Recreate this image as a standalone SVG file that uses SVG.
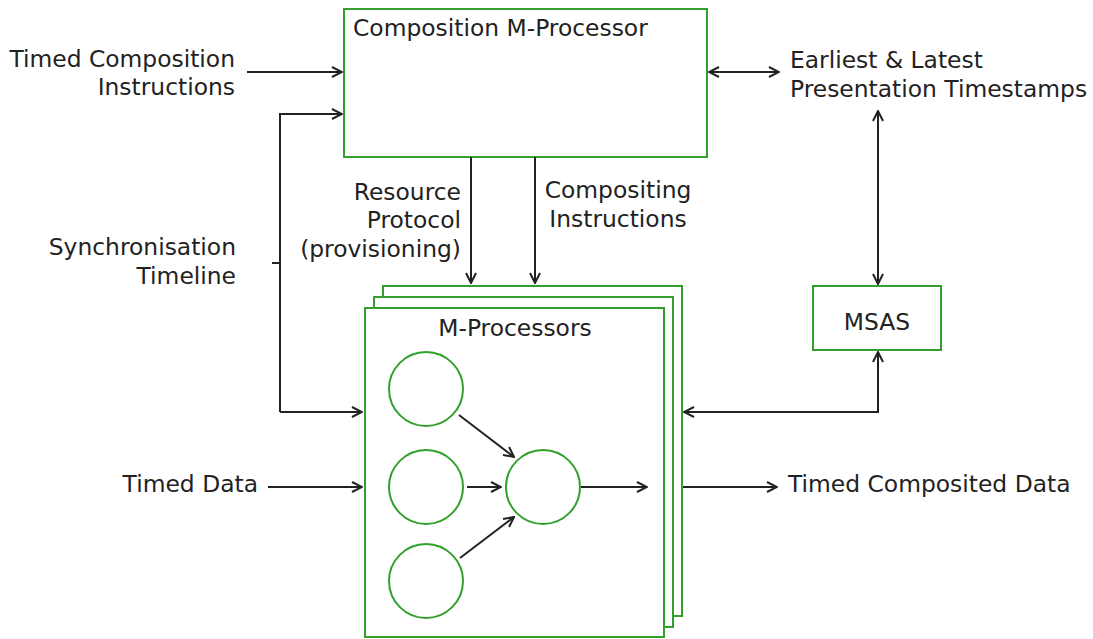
<svg xmlns="http://www.w3.org/2000/svg" width="1093" height="639" viewBox="0 0 1093 639">
<style>
text{font-family:"DejaVu Sans","Liberation Sans",sans-serif;font-size:23.4px;fill:#222}
.box{fill:#fff;stroke:#33a02c;stroke-width:2}
.ln{fill:none;stroke:#222;stroke-width:2}
.r{text-anchor:end}
.m{text-anchor:middle}
</style>
<defs>
<marker id="ah" viewBox="0 0 12 12" refX="11" refY="6" markerWidth="12" markerHeight="12" markerUnits="userSpaceOnUse" orient="auto-start-reverse">
<path d="M1,1 L11,6 L1,11" fill="none" stroke="#222" stroke-width="2"/>
</marker>
</defs>
<rect width="1093" height="639" fill="#fff"/>
<g id="composition">
<rect class="box" x="344" y="9" width="363" height="148"/>
<text x="353" y="36">Composition M-Processor</text>
</g>
<g id="mprocessors">
<rect class="box" x="383" y="286" width="299" height="330"/>
<rect class="box" x="374" y="297" width="299" height="330"/>
<rect class="box" x="365" y="308" width="299" height="329"/>
<text class="m" x="515" y="336">M-Processors</text>
<circle class="box" cx="426" cy="389" r="37"/>
<circle class="box" cx="426" cy="487" r="37"/>
<circle class="box" cx="426" cy="581" r="37"/>
<circle class="box" cx="543" cy="487" r="37"/>
</g>
<g id="msas">
<rect class="box" x="813" y="286" width="128" height="64"/>
<text class="m" x="877" y="330">MSAS</text>
</g>
<g id="labels">
<text class="r" x="235" y="67">Timed Composition</text>
<text class="r" x="235" y="95">Instructions</text>
<text x="790" y="68">Earliest &amp; Latest</text>
<text x="790" y="97">Presentation Timestamps</text>
<text class="r" x="236" y="255">Synchronisation</text>
<text class="r" x="236" y="284">Timeline</text>
<text class="r" x="461" y="200">Resource</text>
<text class="r" x="461" y="228">Protocol</text>
<text class="r" x="461" y="257">(provisioning)</text>
<text class="m" x="618" y="198">Compositing</text>
<text class="m" x="618" y="227">Instructions</text>
<text class="r" x="258" y="492">Timed Data</text>
<text x="788" y="492">Timed Composited Data</text>
</g>
<g id="connectors">
<path class="ln" d="M247,72 H342" marker-end="url(#ah)"/>
<path class="ln" d="M280,412 V114 H342" marker-end="url(#ah)"/>
<path class="ln" d="M280,412 H362" marker-end="url(#ah)"/>
<path class="ln" d="M272,263 H280"/>
<path class="ln" d="M709,72 H779" marker-start="url(#ah)" marker-end="url(#ah)"/>
<path class="ln" d="M878,111 V284" marker-start="url(#ah)" marker-end="url(#ah)"/>
<path class="ln" d="M878,352 V412 H684" marker-start="url(#ah)" marker-end="url(#ah)"/>
<path class="ln" d="M471,157 V283" marker-end="url(#ah)"/>
<path class="ln" d="M535,157 V283" marker-end="url(#ah)"/>
<path class="ln" d="M268,487 H362" marker-end="url(#ah)"/>
<path class="ln" d="M683,487 H777" marker-end="url(#ah)"/>
<path class="ln" d="M459,415 L514,457" marker-end="url(#ah)"/>
<path class="ln" d="M467,487 H501" marker-end="url(#ah)"/>
<path class="ln" d="M460,558 L514,517" marker-end="url(#ah)"/>
<path class="ln" d="M581,487 H647" marker-end="url(#ah)"/>
</g>
</svg>
